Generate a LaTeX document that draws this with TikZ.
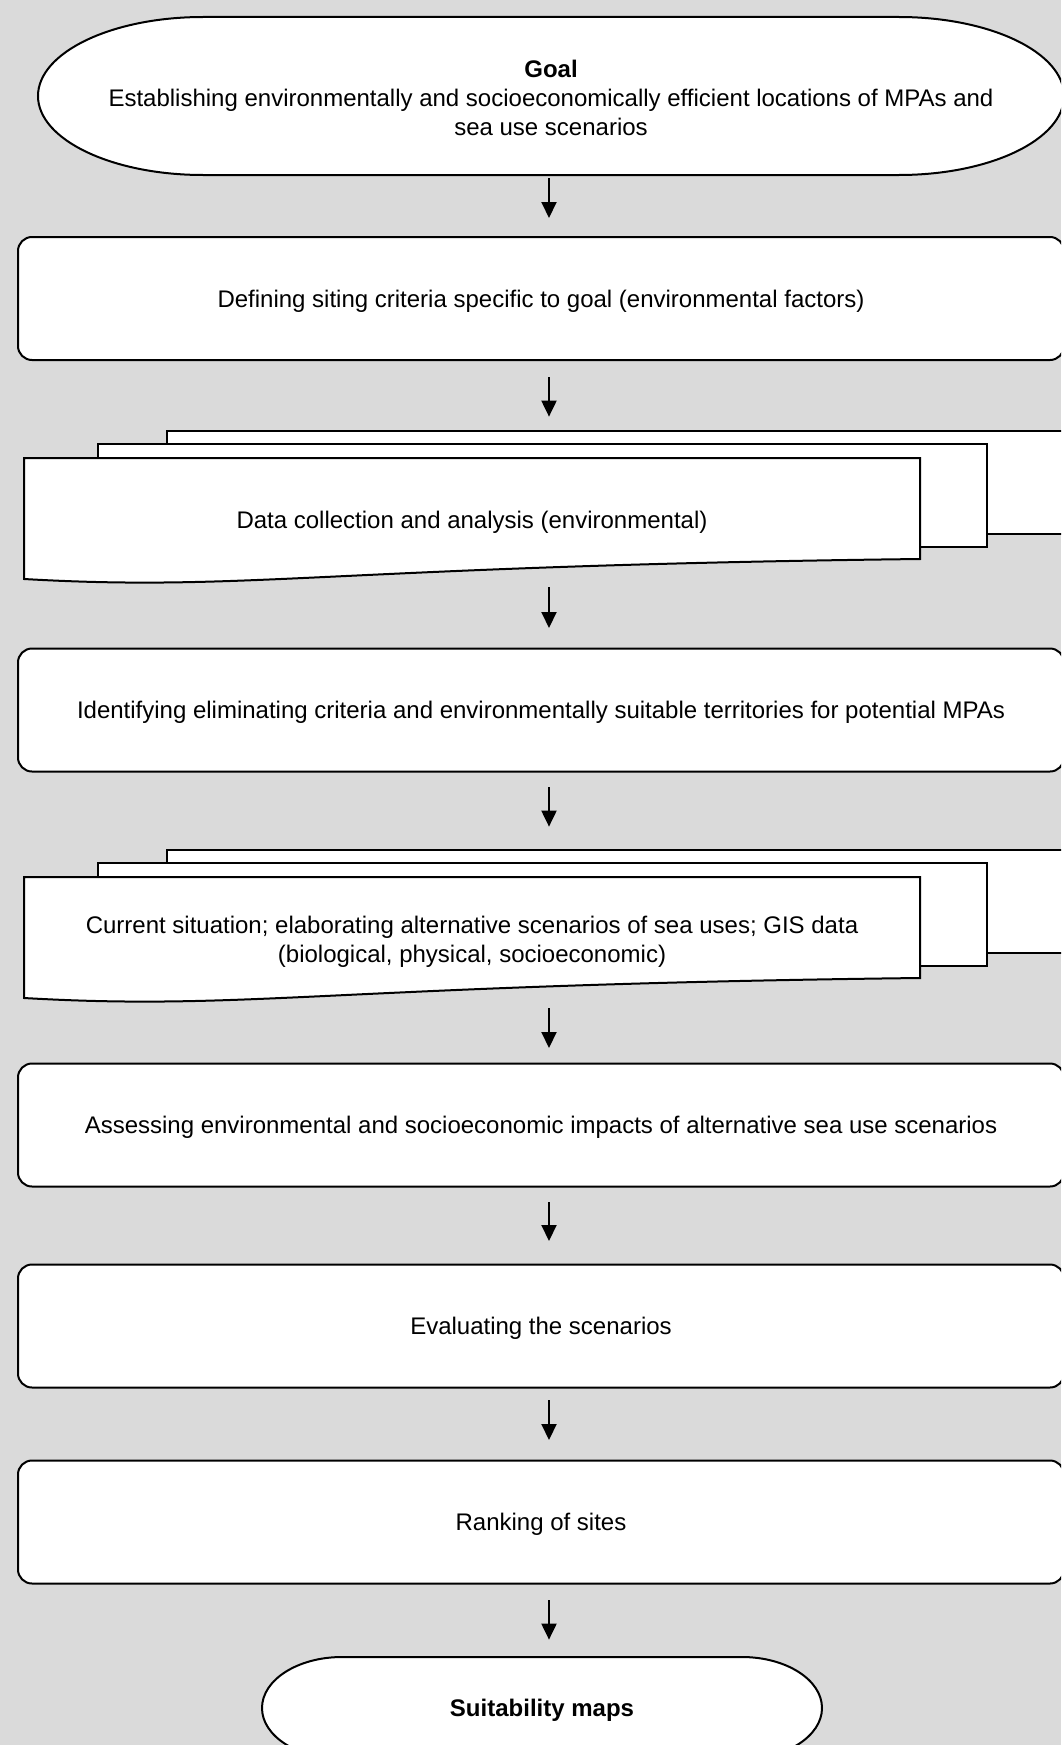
\documentclass[tikz,border=0pt]{standalone}
\usepackage{fontspec}
\setmainfont{Liberation Sans}
\usetikzlibrary{arrows.meta}

\definecolor{bggray}{RGB}{218,218,218}
\tikzset{every picture/.style={line width=0.75pt}}
\tikzset{
  boxfont/.style={font=\fontsize{24}{29}\selectfont, text depth=0pt},
  stepbox/.style={boxfont, draw, fill=white, line width=2pt, rounded corners=14pt, minimum width=1046pt, minimum height=123pt, inner sep=0pt, align=center},
  termtext/.style={boxfont, inner sep=0pt, align=center},
  sheet/.style={draw, fill=white, line width=2pt},
  flow/.style={line width=2pt, -{Triangle[length=16pt,width=15pt]}},
}

\begin{document}
\begin{tikzpicture}[x=1pt,y=1pt,yscale=-1,xscale=1]
\useasboundingbox (0,0) rectangle (1061,1745);
\clip (0,0) rectangle (1061,1745);
\fill[bggray] (0,0) rectangle (1061,1745);

%Shape: Terminator
\draw[sheet] (203,17) -- (899,17) arc[start angle=-90, end angle=90, x radius=165, y radius=79] -- (203,175) arc[start angle=90, end angle=270, x radius=165, y radius=79] -- cycle;
% Text Node
\node[termtext, minimum width=1026pt, minimum height=158pt] (goal) at (551,98) {\textbf{Goal}\\Establishing environmentally and socioeconomically efficient locations of MPAs and\\sea use scenarios};

%Shape: Rounded Rect
\node[stepbox] (define) at (541,298.5) {Defining siting criteria specific to goal (environmental factors)};

%Shape: Multidocument
\draw[sheet] (167,431) rectangle (1080,534);
\draw[sheet] (98,444) rectangle (987,547);
\draw[sheet] (24,458) -- (920,458) -- (920,559) .. controls (330,566) and (250,592) .. (24,579) -- cycle;
% Text Node
\node[termtext, minimum width=896pt, minimum height=124pt] (data) at (472,520) {Data collection and analysis (environmental)};

%Shape: Rounded Rect
\node[stepbox] (ident) at (541,710) {Identifying eliminating criteria and environmentally suitable territories for potential MPAs};

%Shape: Multidocument
\draw[sheet] (167,850) rectangle (1080,953);
\draw[sheet] (98,863) rectangle (987,966);
\draw[sheet] (24,877) -- (920,877) -- (920,978) .. controls (330,985) and (250,1011) .. (24,998) -- cycle;
% Text Node
\node[termtext, minimum width=896pt, minimum height=124pt] (sites) at (472,939) {Current situation; elaborating alternative scenarios of sea uses; GIS data\\(biological, physical, socioeconomic)};

%Shape: Rounded Rect
\node[stepbox] (assess) at (541,1125) {Assessing environmental and socioeconomic impacts of alternative sea use scenarios};
%Shape: Rounded Rect
\node[stepbox] (eval) at (541,1326) {Evaluating the scenarios};
%Shape: Rounded Rect
\node[stepbox] (rank) at (541,1522) {Ranking of sites};

%Shape: Terminator
\draw[sheet] (342,1657) -- (742,1657) arc[start angle=-90, end angle=90, x radius=80, y radius=51] -- (342,1759) arc[start angle=90, end angle=270, x radius=80, y radius=51] -- cycle;
% Text Node
\node[termtext, minimum width=560pt, minimum height=102pt] (maps) at (542,1708) {\textbf{Suitability maps}};

%Straight Lines
\coordinate (ax) at (549,0);
\draw[flow, shorten <=1pt, shorten >=18pt] (goal.south -| ax) -- (define.north -| ax);
\draw[flow, shorten <=16pt, shorten >=41pt] (define.south -| ax) -- (data.north -| ax);
\draw[flow, shorten <=5pt, shorten >=19.5pt] (data.south -| ax) -- (ident.north -| ax);
\draw[flow, shorten <=14.5pt, shorten >=50pt] (ident.south -| ax) -- (sites.north -| ax);
\draw[flow, shorten <=7pt, shorten >=14.5pt] (sites.south -| ax) -- (assess.north -| ax);
\draw[flow, shorten <=14.5pt, shorten >=22.5pt] (assess.south -| ax) -- (eval.north -| ax);
\draw[flow, shorten <=11.5pt, shorten >=19.5pt] (eval.south -| ax) -- (rank.north -| ax);
\draw[flow, shorten <=15.5pt, shorten >=17pt] (rank.south -| ax) -- (maps.north -| ax);

\end{tikzpicture}
\end{document}
